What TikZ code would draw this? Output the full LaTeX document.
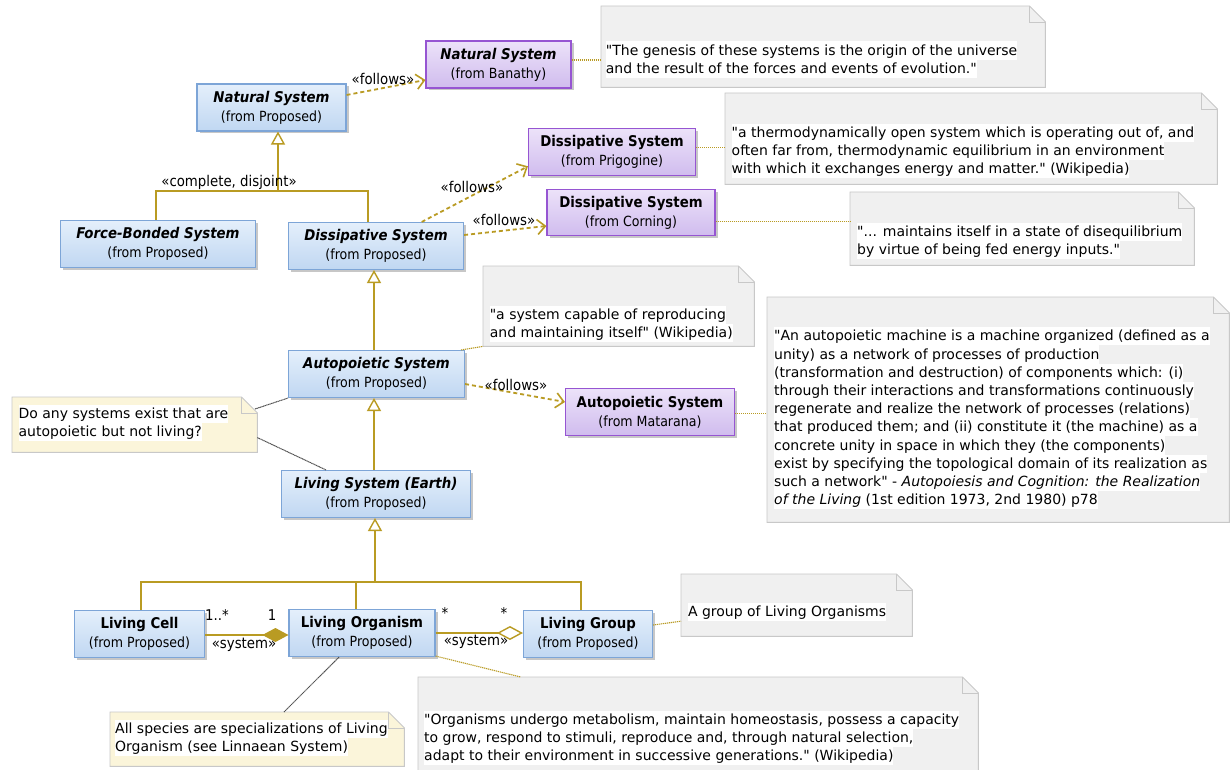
\documentclass[tikz,border=0pt]{standalone}
\usepackage{fontspec}
\newfontfamily\notefont{DejaVu Sans}
\newfontfamily\clsfont{DejaVu Sans}[FakeStretch=0.9]
\usetikzlibrary{arrows.meta,shadows,calc}
\definecolor{olivec}{RGB}{185,155,35}
\definecolor{clsborder}{RGB}{125,165,215}
\definecolor{clstop}{RGB}{228,239,251}
\definecolor{clsbot}{RGB}{192,215,242}
\definecolor{purborder}{RGB}{150,85,210}
\definecolor{purtop}{RGB}{236,226,249}
\definecolor{purbot}{RGB}{208,188,238}
\definecolor{notegray}{RGB}{200,200,200}
\definecolor{notefill}{RGB}{240,240,240}
\definecolor{yelfill}{RGB}{251,245,218}
\definecolor{darkline}{RGB}{80,80,80}
\newcommand{\hl}[1]{{\setlength{\fboxsep}{0pt}\colorbox{white}{\rule[-4.5pt]{0pt}{18.2pt}#1}}}
\newcommand{\ttl}[1]{{\fontsize{14.8}{19}\selectfont\textbf{#1}}}
\newcommand{\notebox}[6]{%
  \node[draw=none, fill=none, inner sep=0pt, minimum width=#4pt, minimum height=#5pt, anchor=north west] (#1) at (#2,#3) {};
  \path[draw=notegray, line width=0.9pt, fill=#6] (#1.north west) -- ([xshift=-16pt]#1.north east) -- ([yshift=-16pt]#1.north east) -- (#1.south east) -- (#1.south west) -- cycle;
  \draw[notegray, line width=0.9pt] ([xshift=-16pt]#1.north east) -- ([xshift=-16pt,yshift=-16pt]#1.north east) -- ([yshift=-16pt]#1.north east);
}
\tikzset{
  cls/.style={draw=clsborder, line width=1.1pt, top color=clstop, bottom color=clsbot, inner sep=0pt, align=center,
    font=\clsfont\fontsize{14}{19}\selectfont,
    drop shadow={shadow xshift=2.5pt, shadow yshift=-2.5pt, opacity=0.22, fill=black}},
  pur/.style={cls, draw=purborder, top color=purtop, bottom color=purbot},
  lbl/.style={inner sep=0pt, font=\clsfont\fontsize{14.8}{16}\selectfont},
  ntext/.style={inner sep=0pt, align=left, anchor=north west, font=\notefont\fontsize{14}{18.2}\selectfont},
  olivel/.style={draw=olivec, line width=1.5pt},
  gen/.style={olivel, -{Triangle[length=13pt,width=14pt,fill=white,line width=1.4pt]}},
  follows/.style={draw=olivec, line width=1.8pt, dash pattern=on 4pt off 3pt, -{Straight Barb[length=8pt,width=15pt,line width=1.6pt]}},
  comp/.style={olivel, -{Diamond[length=26pt,width=14pt,fill=olivec,line width=1.2pt]}},
  aggr/.style={olivel, -{Diamond[length=26pt,width=14pt,fill=white,line width=1.4pt]}},
  anchorl/.style={draw=olivec, line width=1.1pt, dash pattern=on 1.2pt off 0.8pt},
  darkl/.style={draw=darkline, line width=1pt, dash pattern=on 1.2pt off 0.5pt},
}
\begin{document}
\begin{tikzpicture}[x=1pt,y=-1pt]
\useasboundingbox (0,0) rectangle (1231,770);
\fill[white] (0,0) rectangle (1231,770);

% ---- notes ----
\notebox{n1}{601}{6}{444}{81}{notefill}
\notebox{n2}{725}{93}{492}{91}{notefill}
\notebox{n3}{850}{192}{344}{73}{notefill}
\notebox{n4}{483}{266}{271}{80}{notefill}
\notebox{n5}{767}{297}{462}{225}{notefill}
\notebox{n6}{12}{397}{245}{55}{yelfill}
\notebox{n7}{681}{574}{231}{62}{notefill}
\notebox{n8}{418}{677}{560}{100}{notefill}
\notebox{n9}{110}{712}{294}{54}{yelfill}

\node[ntext] (n1t) at (605.7,41.3) {\hl{"The genesis of these systems is the origin of the universe}\\\hl{and the result of the forces and events of evolution."}};
\node[ntext] (n2t) at (731.5,123.6) {\hl{"a thermodynamically open system which is operating out of, and}\\\hl{often far from, thermodynamic equilibrium in an environment}\\\hl{with which it exchanges energy and matter." (Wikipedia)}};
\node[ntext] (n3t) at (857,222.3) {\hl{"... maintains itself in a state of disequilibrium}\\\hl{by virtue of being fed energy inputs."}};
\node[ntext] (n4t) at (489.6,305.6) {\hl{"a system capable of reproducing}\\\hl{and maintaining itself" (Wikipedia)}};
\node[ntext] (n5t) at (774,327) {\hl{"An autopoietic machine is a machine organized (defined as a}\\\hl{unity) as a network of processes of production}\\\hl{(transformation and destruction) of components which: (i)}\\\hl{through their interactions and transformations continuously}\\\hl{regenerate and realize the network of processes (relations)}\\\hl{that produced them; and (ii) constitute it (the machine) as a}\\\hl{concrete unity in space in which they (the components)}\\\hl{exist by specifying the topological domain of its realization as}\\\hl{such a network" - \textit{Autopoiesis and Cognition: the Realization}}\\\hl{\textit{of the Living} (1st edition 1973, 2nd 1980) p78}};
\node[ntext] (n6t) at (18.4,404.6) {\hl{Do any systems exist that are}\\\hl{autopoietic but not living?}};
\node[ntext] (n7t) at (687.8,603) {\hl{A group of Living Organisms}};
\node[ntext] (n8t) at (424,710.3) {\hl{"Organisms undergo metabolism, maintain homeostasis, possess a capacity}\\\hl{to grow, respond to stimuli, reproduce and, through natural selection,}\\\hl{adapt to their environment in successive generations." (Wikipedia)}};
\node[ntext] (n9t) at (115,719.3) {\hl{All species are specializations of Living}\\\hl{Organism (see Linnaean System)}};

% ---- classes ----
\node[cls, minimum width=149pt, minimum height=47pt] (nsp) at (271.5,107.5) {\ttl{\textit{Natural System}}\\(from Proposed)};
\node[pur, minimum width=145pt, minimum height=47pt] (nsb) at (498.5,64.5) {\ttl{\textit{Natural System}}\\(from Banathy)};
\node[cls, minimum width=195pt, minimum height=47pt] (fbs) at (158,244) {\ttl{\textit{Force-Bonded System}}\\(from Proposed)};
\node[cls, minimum width=175pt, minimum height=47pt] (dsp) at (376,246) {\ttl{\textit{Dissipative System}}\\(from Proposed)};
\node[pur, minimum width=167pt, minimum height=47pt] (dpr) at (612,152.3) {\ttl{Dissipative System}\\(from Prigogine)};
\node[pur, minimum width=168pt, minimum height=46pt] (dco) at (631,212.5) {\ttl{Dissipative System}\\(from Corning)};
\node[cls, minimum width=176pt, minimum height=47pt] (asp) at (376.5,374) {\ttl{\textit{Autopoietic System}}\\(from Proposed)};
\node[pur, minimum width=169pt, minimum height=47pt] (asm) at (650,412) {\ttl{Autopoietic System}\\(from Matarana)};
\node[cls, minimum width=189pt, minimum height=47pt] (lse) at (376,494) {\ttl{\textit{Living System (Earth)}}\\(from Proposed)};
\node[cls, minimum width=130pt, minimum height=47pt] (lc) at (139.5,634) {\ttl{Living Cell}\\(from Proposed)};
\node[cls, minimum width=146pt, minimum height=47pt] (lo) at (362,633) {\ttl{Living Organism}\\(from Proposed)};
\node[cls, minimum width=129pt, minimum height=47pt] (lg) at (588,634) {\ttl{Living Group}\\(from Proposed)};

% ---- generalizations ----
\coordinate (j1) at (278,191);
\draw[olivel] ([xshift=-2pt]fbs.north) |- (j1) -| ([xshift=-8pt]dsp.north);
\draw[gen] (j1) -- (j1 |- nsp.south);
\node[lbl] (cd) at (229,182) {«complete, disjoint»};
\coordinate (g2) at (374,0);
\draw[gen] (g2 |- asp.north) -- (g2 |- dsp.south);
\coordinate (g3) at ([xshift=-2pt]lse.north);
\draw[gen] (g3) -- (g3 |- asp.south);
\coordinate (j2) at (375,582);
\draw[olivel] ([xshift=1.5pt]lc.north) |- (j2) -| ([xshift=-7pt]lg.north);
\coordinate (g4) at ([xshift=-6pt]lo.north);
\draw[olivel] (g4) -- (g4 |- j2);
\draw[gen] (j2) -- (j2 |- lse.south);

% ---- associations ----
\coordinate (c1) at ([yshift=-1pt]lc.east);
\draw[comp] (c1) -- (c1 -| lo.west);
\node[lbl] (m1) at (217,615) {1..*};
\node[lbl] (m2) at (272,615) {1};
\node[lbl] (s1) at (244,645) {«system»};
\coordinate (c2) at (lo.east);
\draw[aggr] (c2) -- (c2 -| lg.west);
\node[lbl] (m3) at (445,613) {*};
\node[lbl] (m4) at (504,613) {*};
\node[lbl] (s2) at (476,642) {«system»};

% ---- follows ----
\draw[follows] ($(nsp.east)+(0,-12.5)$) -- ($(nsb.west)+(0,15.5)$);
\node[lbl] (f1) at (383,79) {«follows»};
\draw[follows] ($(dsp.north)+(45.7,0)$) -- ($(dpr.west)+(0,14)$);
\node[lbl] (f2) at (472,187) {«follows»};
\draw[follows] ($(dsp.east)+(0,-11)$) -- ($(dco.west)+(0,13.5)$);
\node[lbl] (f3) at (504,220) {«follows»};
\draw[follows] ($(asp.east)+(0,10)$) -- ($(asm.west)+(0,-10)$);
\node[lbl] (f4) at (516,385) {«follows»};

% ---- note anchors ----
\coordinate (a1) at ($(nsb.east)+(0,-4.5)$);
\draw[anchorl] (a1) -- (a1 -| n1.west);
\coordinate (a2) at ($(dpr.east)+(0,-4.5)$);
\draw[anchorl] (a2) -- (a2 -| n2.west);
\coordinate (a3) at ($(dco.east)+(0,9)$);
\draw[anchorl] (a3) -- (a3 -| n3.west);
\draw[anchorl] ($(asp.north east)+(-4,0)$) -- (n4.south west);
\coordinate (a5) at ($(asm.east)+(0,1.3)$);
\draw[anchorl] (a5) -- (a5 -| n5.west);
\draw[anchorl] ($(lg.east)+(0,-9)$) -- ($(n7.west)+(0,16)$);
\draw[anchorl] ($(lo.south east)+(0,-1)$) -- ($(n8.north west)+(102.7,0)$);
\draw[darkl] ($(n6.north east)+(-2.4,12)$) -- (asp.south west);
\draw[darkl] ($(n6.east)+(0,12.9)$) -- ($(lse.north)+(-50,0)$);
\draw[darkl] ($(n9.north west)+(174,0)$) -- ($(lo.south)+(-23,0)$);
\end{tikzpicture}
\end{document}
